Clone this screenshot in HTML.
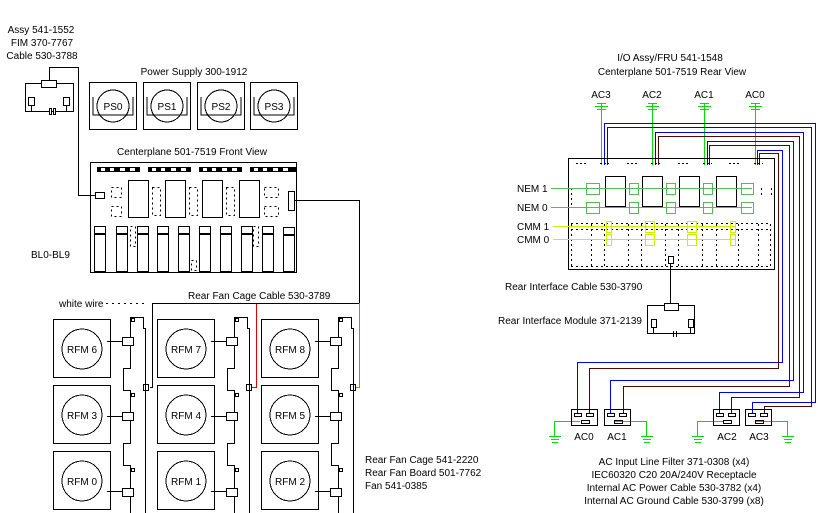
<!DOCTYPE html>
<html><head><meta charset="utf-8"><style>
html,body{margin:0;padding:0;background:#fff}
svg{display:block}
text{font-family:"Liberation Sans",sans-serif;font-size:10px;fill:#000}
</style></head><body>
<svg width="834" height="513" viewBox="0 0 834 513" xmlns="http://www.w3.org/2000/svg">
<g fill="none" stroke="#000" stroke-width="1" shape-rendering="crispEdges">
<!-- FIM -->
<rect x="25.5" y="83.5" width="48" height="28"/>
<rect x="41.5" y="80.5" width="15" height="7" fill="#fff"/>
<polyline points="49.5,80 49.5,67.5 78.5,67.5 78.5,195.5 95,195.5"/>
<rect x="28.5" y="97.5" width="6" height="8"/><rect x="63.5" y="97.5" width="6" height="8"/>
<line x1="31.5" y1="105" x2="31.5" y2="112"/><line x1="66.5" y1="105" x2="66.5" y2="112"/>
<line x1="31" y1="111.5" x2="66" y2="111.5"/>
<rect x="49.5" y="108.5" width="2" height="6" fill="#fff"/><rect x="53.5" y="108.5" width="2" height="6" fill="#fff"/>
<!-- PS -->
<g>
<rect x="89.5" y="82.5" width="47" height="47"/><rect x="143.5" y="82.5" width="47" height="47"/>
<rect x="197.5" y="82.5" width="47" height="47"/><rect x="250.5" y="82.5" width="47" height="47"/>
<polyline points="93,97 93,115 133,115 133,97"/><polyline points="147,97 147,115 187,115 187,97"/>
<polyline points="201,97 201,115 241,115 241,97"/><polyline points="254,97 254,115 294,115 294,97"/>
</g>
<circle cx="113" cy="106" r="16"/><circle cx="167" cy="106" r="16"/><circle cx="221" cy="106" r="16"/><circle cx="274" cy="106" r="16"/>
<!-- front centerplane -->
<rect x="90.5" y="162.5" width="206" height="110"/>
<g fill="#000" stroke="none">
<rect x="97" y="167" width="43" height="5"/><rect x="148" y="167" width="43" height="5"/>
<rect x="199" y="167" width="43" height="5"/><rect x="250" y="167" width="46" height="5"/>
</g>
<g fill="#fff" stroke="none">
<rect x="101" y="168" width="4" height="3"/><rect x="110" y="168" width="4" height="3"/><rect x="120" y="168" width="5" height="3"/><rect x="130" y="168" width="5" height="3"/>
<rect x="152" y="168" width="4" height="3"/><rect x="161" y="168" width="4" height="3"/><rect x="171" y="168" width="5" height="3"/><rect x="181" y="168" width="5" height="3"/>
<rect x="203" y="168" width="4" height="3"/><rect x="212" y="168" width="4" height="3"/><rect x="222" y="168" width="5" height="3"/><rect x="232" y="168" width="5" height="3"/>
<rect x="254" y="168" width="4" height="3"/><rect x="263" y="168" width="4" height="3"/><rect x="273" y="168" width="5" height="3"/><rect x="283" y="168" width="5" height="3"/>
</g>
<rect x="128.5" y="180.5" width="20" height="37"/><rect x="165.5" y="180.5" width="20" height="37"/>
<rect x="202.5" y="180.5" width="20" height="37"/><rect x="239.5" y="180.5" width="20" height="37"/>
<rect x="95.5" y="192.5" width="9" height="6"/><rect x="288.5" y="191.5" width="6" height="19"/>
<g stroke-dasharray="2,3">
<rect x="111.5" y="187.5" width="10" height="10"/><rect x="111.5" y="206.5" width="10" height="10"/>
<rect x="152.5" y="187.5" width="8" height="28"/><rect x="189.5" y="187.5" width="8" height="28"/>
<rect x="226.5" y="187.5" width="8" height="28"/><rect x="264.5" y="187.5" width="14" height="10"/><rect x="264.5" y="206.5" width="14" height="10"/>
<rect x="130.5" y="226.5" width="5" height="20"/><rect x="253.5" y="226.5" width="5" height="20"/><rect x="191.5" y="260.5" width="5" height="10"/>
</g>
<g>
<rect x="94.5" y="226.5" width="11" height="45"/><rect x="116.5" y="226.5" width="11" height="45"/><rect x="137.5" y="226.5" width="11" height="45"/>
<rect x="157.5" y="226.5" width="11" height="45"/><rect x="178.5" y="226.5" width="11" height="45"/><rect x="199.5" y="226.5" width="11" height="45"/>
<rect x="220.5" y="226.5" width="11" height="45"/><rect x="241.5" y="226.5" width="11" height="45"/><rect x="262.5" y="226.5" width="11" height="45"/>
<rect x="283.5" y="227.5" width="11" height="44"/>
</g>
<g stroke-width="2">
<line x1="94" y1="234" x2="106" y2="234"/><line x1="116" y1="234" x2="128" y2="234"/><line x1="137" y1="234" x2="149" y2="234"/>
<line x1="157" y1="234" x2="169" y2="234"/><line x1="178" y1="234" x2="190" y2="234"/><line x1="199" y1="234" x2="211" y2="234"/>
<line x1="220" y1="234" x2="232" y2="234"/><line x1="241" y1="234" x2="253" y2="234"/><line x1="262" y1="234" x2="274" y2="234"/><line x1="283" y1="235" x2="295" y2="235"/>
</g>
<!-- rear fan cage cable -->
<polyline points="295,200.5 359.5,200.5 359.5,303.5"/>
<polyline points="359,303.5 152.5,303.5 152.5,387.5 150,387.5"/>
<line x1="106" y1="303.5" x2="148" y2="303.5" stroke-dasharray="2,4"/>
<polyline points="256.5,304 256.5,387.5 251,387.5" stroke="#e00000"/>
<polyline points="359.5,304 359.5,387.5 353,387.5" stroke="#00dd00"/>
<rect x="143.5" y="384.5" width="5" height="6" fill="#fff"/><rect x="246.5" y="384.5" width="5" height="6" fill="#fff"/><rect x="350.5" y="384.5" width="5" height="6" fill="#fff"/>
</g>
<!-- fan cage columns -->
<g id="col" fill="none" stroke="#000" shape-rendering="crispEdges">
<rect x="53.5" y="319.5" width="57" height="58"/><rect x="53.5" y="385.5" width="57" height="58"/><rect x="53.5" y="451.5" width="57" height="58"/>
<circle cx="82" cy="349" r="20"/><circle cx="82" cy="415" r="20"/><circle cx="82" cy="481" r="20"/>
<line x1="107" y1="341.5" x2="122" y2="341.5"/><line x1="107" y1="416.5" x2="122" y2="416.5"/><line x1="107" y1="491.5" x2="122" y2="491.5"/>
<rect x="122.5" y="337.5" width="11" height="8"/><rect x="122.5" y="412.5" width="11" height="8"/><rect x="122.5" y="488.5" width="11" height="8"/>
<polyline points="130.5,317.5 143.5,317.5 143.5,328.5 145.5,328.5 145.5,513"/>
<path d="M130.5,317v20M130.5,346v22.5h-7v22h7v21.5M130.5,421v22.5h-7v22h7v22.5M130.5,497v16"/>
<rect x="131.5" y="318.5" width="3" height="3"/><rect x="131.5" y="393.5" width="3" height="3"/><rect x="131.5" y="468.5" width="3" height="3"/>
</g>
<use href="#col" x="104"/><use href="#col" x="208"/>
<!-- RIGHT: rear centerplane -->
<g fill="none" shape-rendering="crispEdges">
<g stroke="#00dd00">
<line x1="601.5" y1="104" x2="601.5" y2="165"/><line x1="652.5" y1="104" x2="652.5" y2="165"/><line x1="704.5" y1="104" x2="704.5" y2="165"/><line x1="755.5" y1="104" x2="755.5" y2="165"/>
<path d="M597,103.5h9M595,106.5h13M597,109.5h9M648,103.5h9M646,106.5h13M648,109.5h9M700,103.5h9M698,106.5h13M700,109.5h9M751,103.5h9M749,106.5h13M751,109.5h9"/>
</g>
<g stroke="#0000ee">
<polyline points="604.5,165 604.5,123.5 815.5,123.5 815.5,402.5 752.5,402.5 752.5,413"/>
<polyline points="655.5,165 655.5,132.5 803.5,132.5 803.5,392.5 719.5,392.5 719.5,413"/>
<polyline points="707.5,165 707.5,141.5 793.5,141.5 793.5,380.5 610.5,380.5 610.5,413"/>
<polyline points="757.5,165 757.5,150.5 782.5,150.5 782.5,362.5 577.5,362.5 577.5,413"/>
</g>
<g stroke="#4a0a00">
<polyline points="607.5,165 607.5,127.5 811.5,127.5 811.5,406.5 764.5,406.5 764.5,413"/>
<polyline points="658.5,165 658.5,136.5 799.5,136.5 799.5,397.5 731.5,397.5 731.5,413"/>
<polyline points="709.5,165 709.5,145.5 789.5,145.5 789.5,386.5 623.5,386.5 623.5,413"/>
<polyline points="759.5,165 759.5,153.5 778.5,153.5 778.5,368.5 589.5,368.5 589.5,413"/>
</g>
<rect x="568.5" y="158.5" width="206" height="111" stroke="#000"/>
<g stroke="#000" stroke-dasharray="2,2">
<path d="M576,163.5h11M627,163.5h11M678,163.5h11M729,163.5h11"/>
<path d="M600,163.5h9M651,163.5h9M703,163.5h9M754,163.5h9"/>
</g>
<rect x="605.5" y="176.5" width="20" height="30" stroke="#000"/><rect x="642.5" y="176.5" width="20" height="30" stroke="#000"/>
<rect x="679.5" y="176.5" width="20" height="30" stroke="#000"/><rect x="716.5" y="176.5" width="20" height="30" stroke="#000"/>
<g stroke="#000" stroke-dasharray="2,3">
<path d="M571.5,188v20M761.5,188v8M771.5,188v8"/>
<path d="M571,223.5h200M571,229.5h200M571,266.5h200"/>
<path d="M571.5,224v43M591.5,224v43M604.5,224v43M628.5,224v43M641.5,224v43M665.5,224v43M678.5,224v43M702.5,224v43M716.5,224v43M738.5,224v43M758.5,224v43M770.5,224v43"/>
</g>
<g stroke="#55bb55">
<rect x="586.5" y="183.5" width="13" height="11"/><rect x="629.5" y="183.5" width="9" height="11"/><rect x="666.5" y="183.5" width="9" height="11"/><rect x="703.5" y="183.5" width="9" height="11"/><rect x="741.5" y="183.5" width="12" height="11"/>
<rect x="586.5" y="202.5" width="13" height="11"/><rect x="629.5" y="202.5" width="9" height="11"/><rect x="666.5" y="202.5" width="9" height="11"/><rect x="703.5" y="202.5" width="9" height="11"/><rect x="741.5" y="202.5" width="12" height="11"/>
<line x1="551" y1="188.5" x2="752" y2="188.5"/><line x1="551" y1="207.5" x2="752" y2="207.5"/>
</g>
<g stroke="#ccee00">
<line x1="553" y1="226.5" x2="735" y2="226.5"/><line x1="553" y1="239.5" x2="735" y2="239.5"/>
<rect x="606.5" y="221.5" width="5" height="11"/><rect x="645.5" y="221.5" width="9" height="11"/><rect x="687.5" y="221.5" width="9" height="11"/><rect x="730.5" y="221.5" width="5" height="11"/>
<rect x="606.5" y="234.5" width="5" height="11"/><rect x="645.5" y="234.5" width="9" height="11"/><rect x="687.5" y="234.5" width="9" height="11"/><rect x="730.5" y="234.5" width="5" height="11"/>
</g>
<rect x="668.5" y="256.5" width="5" height="7" stroke="#000"/>
<line x1="670.5" y1="264" x2="670.5" y2="305" stroke="#000"/>
<!-- rear interface module -->
<rect x="647.5" y="305.5" width="47" height="28" stroke="#000"/>
<rect x="664.5" y="303.5" width="14" height="7" stroke="#000" fill="#fff"/>
<rect x="651.5" y="319.5" width="5" height="8" stroke="#000"/><rect x="688.5" y="319.5" width="5" height="8" stroke="#000"/>
<path d="M653.5,327v7M690.5,327v7M673.5,331v6M676.5,331v6M667,333.5h16" stroke="#000"/>
<!-- AC filters -->
<g stroke="#00dd00">
<polyline points="580,421.5 554.5,421.5 554.5,437"/><polyline points="614,421.5 646.5,421.5 646.5,437"/>
<polyline points="723,421.5 697.5,421.5 697.5,437"/><polyline points="755,421.5 787.5,421.5 787.5,437"/>
<path d="M549,436.5h12M551,439.5h8M552,442.5h6M641,436.5h12M643,439.5h8M644,442.5h6M692,436.5h12M694,439.5h8M695,442.5h6M782,436.5h12M784,439.5h8M785,442.5h6"/>
</g>
<g stroke="#000">
<rect x="571.5" y="409.5" width="26" height="16"/><rect x="604.5" y="409.5" width="26" height="16"/>
<rect x="713.5" y="409.5" width="26" height="16"/><rect x="745.5" y="409.5" width="26" height="16"/>
<rect x="574.5" y="413.5" width="7" height="3"/><rect x="586.5" y="413.5" width="7" height="3"/><rect x="581.5" y="420.5" width="8" height="3"/>
<rect x="607.5" y="413.5" width="7" height="3"/><rect x="619.5" y="413.5" width="7" height="3"/><rect x="614.5" y="420.5" width="8" height="3"/>
<rect x="716.5" y="413.5" width="7" height="3"/><rect x="728.5" y="413.5" width="7" height="3"/><rect x="723.5" y="420.5" width="8" height="3"/>
<rect x="748.5" y="413.5" width="7" height="3"/><rect x="760.5" y="413.5" width="7" height="3"/><rect x="755.5" y="420.5" width="8" height="3"/>
</g>
</g>
<!-- text -->
<g text-anchor="middle">
<text x="41" y="33">Assy  541-1552</text><text x="42" y="46">FIM 370-7767</text><text x="42" y="59">Cable  530-3788</text>
<text x="194" y="75">Power   Supply   300-1912</text>
<text x="113" y="110">PS0</text><text x="167" y="110">PS1</text><text x="221" y="110">PS2</text><text x="274" y="110">PS3</text>
<text x="192" y="155">Centerplane  501-7519  Front  View</text>
<text x="82" y="353">RFM 6</text><text x="82" y="419">RFM 3</text><text x="82" y="485">RFM 0</text>
<text x="186" y="353">RFM 7</text><text x="186" y="419">RFM 4</text><text x="186" y="485">RFM 1</text>
<text x="290" y="353">RFM 8</text><text x="290" y="419">RFM 5</text><text x="290" y="485">RFM 2</text>
<text x="670" y="61">I/O Assy/FRU  541-1548</text><text x="672" y="75">Centerplane  501-7519  Rear  View</text>
<text x="601" y="98">AC3</text><text x="652" y="98">AC2</text><text x="704" y="98">AC1</text><text x="755" y="98">AC0</text>
<text x="584" y="440">AC0</text><text x="617" y="440">AC1</text><text x="727" y="440">AC2</text><text x="759" y="440">AC3</text>
<text x="674" y="465">AC Input  Line  Filter  371-0308  (x4)</text>
<text x="674" y="478">IEC60320  C20  20A/240V  Receptacle</text>
<text x="674" y="491">Internal  AC  Power  Cable  530-3782  (x4)</text>
<text x="674" y="504">Internal  AC  Ground  Cable  530-3799  (x8)</text>
</g>
<text x="31" y="258">BL0-BL9</text>
<text x="59" y="307">white  wire</text>
<text x="188" y="299">Rear  Fan  Cage  Cable  530-3789</text>
<text x="365" y="463">Rear  Fan  Cage  541-2220</text><text x="365" y="476">Rear  Fan  Board  501-7762</text><text x="365" y="489">Fan  541-0385</text>
<text x="517" y="192">NEM 1</text><text x="517" y="211">NEM 0</text><text x="517" y="230">CMM 1</text><text x="517" y="243">CMM 0</text>
<text x="505" y="290">Rear  Interface  Cable  530-3790</text>
<text x="498" y="324">Rear  Interface  Module  371-2139</text>
</svg>
</body></html>
